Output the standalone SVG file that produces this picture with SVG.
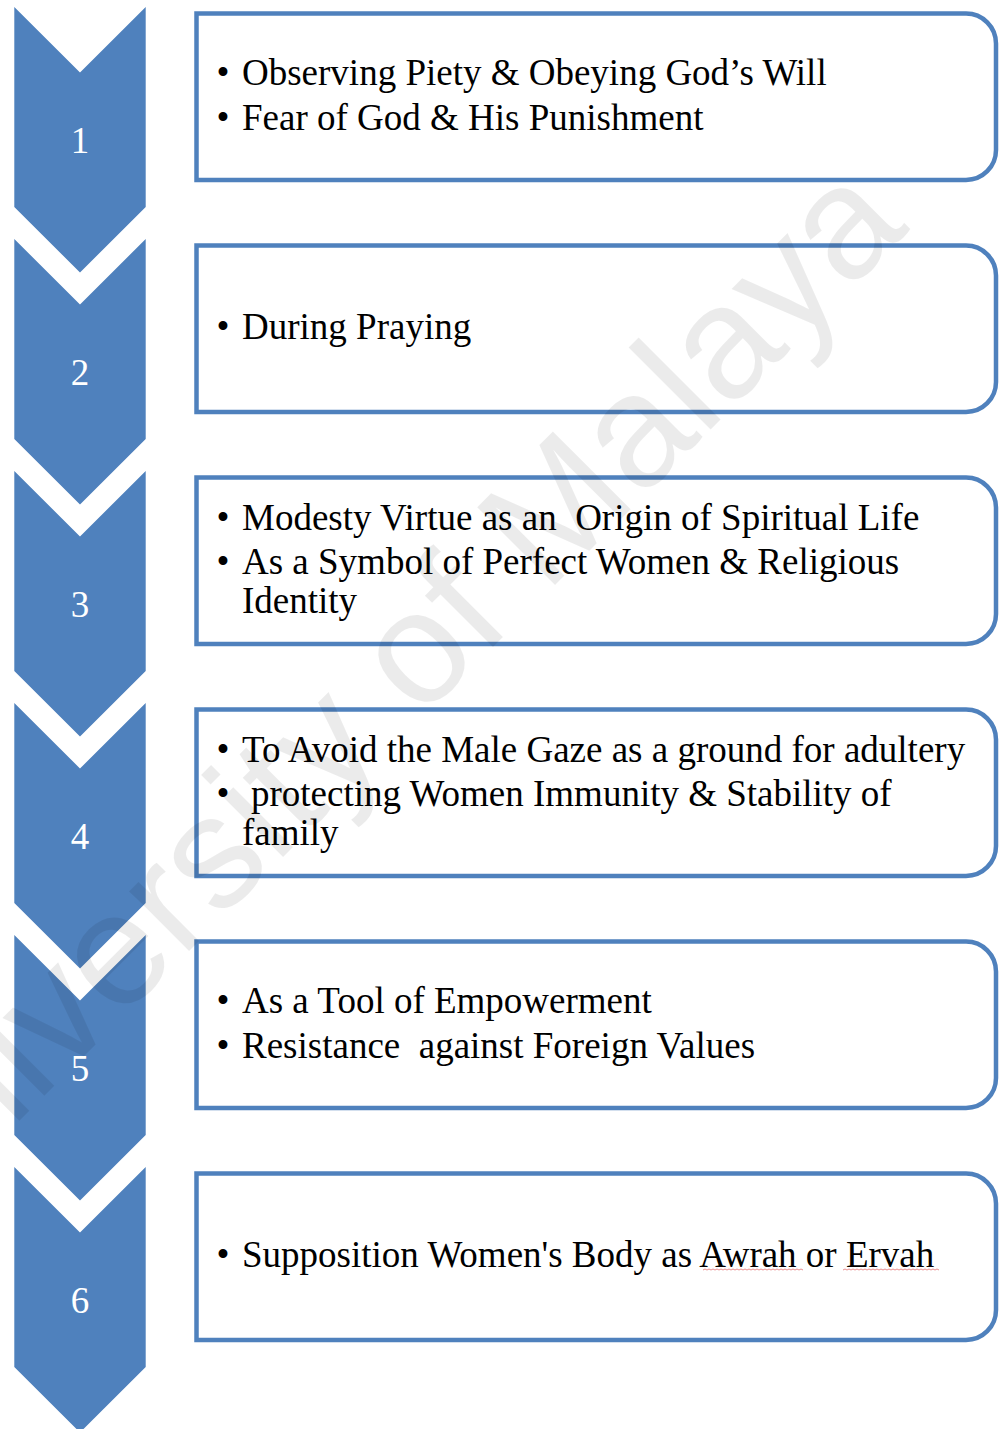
<svg xmlns="http://www.w3.org/2000/svg" width="999" height="1429" viewBox="0 0 999 1429">
  <style>
    .chev { fill: #4f81bd; }
    .num { font-family: "Liberation Serif", "Times New Roman", serif; font-size: 37px; fill: #ffffff; text-anchor: middle; }
    .box { fill: #ffffff; stroke: #4f81bd; stroke-width: 4.5; }
    .txt { font-family: "Liberation Serif", "Times New Roman", serif; font-size: 37px; fill: #000000; white-space: pre; }
    .bul { font-family: "Liberation Serif", "Times New Roman", serif; font-size: 37px; fill: #000000; text-anchor: middle; }
    .squiggle { fill: none; stroke: #e57373; stroke-width: 1; opacity: 0.8; }
    .mark { font-family: "Liberation Sans", Arial, sans-serif; font-size: 160px; fill: #000000; fill-opacity: 0.08; }
  </style>
  <defs>
    <!-- chevron step: flat sides 200 tall, 45 degree notch and tip -->
    <path id="chevShape" d="M14.3,0 L80,65.5 L145.7,0 L145.7,200 L80,265.5 L14.3,200 Z"/>
    <!-- text panel: square left corners, rounded right corners -->
    <path id="boxShape" d="M196.5,0 L966,0 A30,30 0 0 1 996,30 L996,136.5 A30,30 0 0 1 966,166.5 L196.5,166.5 Z"/>
  </defs>

  <rect width="999" height="1429" fill="#ffffff"/>

  <!-- step 1 -->
  <g id="step-1">
    <use href="#chevShape" class="chev" transform="translate(0,7)"/>
    <text class="num" x="80" y="153">1</text>
  </g>
  <g id="box-1" transform="translate(0,13.5)">
    <use href="#boxShape" class="box"/>
    <text class="bul" x="223" y="71.5">•</text>
    <text class="txt" x="242" y="71.5">Observing Piety &amp; Obeying God’s Will</text>
    <text class="bul" x="223" y="116.5">•</text>
    <text class="txt" x="242" y="116.5">Fear of God &amp; His Punishment</text>
  </g>

  <!-- step 2 -->
  <g id="step-2">
    <use href="#chevShape" class="chev" transform="translate(0,239)"/>
    <text class="num" x="80" y="385">2</text>
  </g>
  <g id="box-2" transform="translate(0,245.5)">
    <use href="#boxShape" class="box"/>
    <text class="bul" x="223" y="93">•</text>
    <text class="txt" x="242" y="93">During Praying</text>
  </g>

  <!-- step 3 -->
  <g id="step-3">
    <use href="#chevShape" class="chev" transform="translate(0,471)"/>
    <text class="num" x="80" y="617">3</text>
  </g>
  <g id="box-3" transform="translate(0,477.5)">
    <use href="#boxShape" class="box"/>
    <text class="bul" x="223" y="52">•</text>
    <text class="txt" x="242" y="52">Modesty Virtue as an  Origin of Spiritual Life</text>
    <text class="bul" x="223" y="96">•</text>
    <text class="txt" x="242" y="96">As a Symbol of Perfect Women &amp; Religious</text>
    <text class="txt" x="242" y="135">Identity</text>
  </g>

  <!-- step 4 -->
  <g id="step-4">
    <use href="#chevShape" class="chev" transform="translate(0,703)"/>
    <text class="num" x="80" y="849">4</text>
  </g>
  <g id="box-4" transform="translate(0,709.5)">
    <use href="#boxShape" class="box"/>
    <text class="bul" x="223" y="52">•</text>
    <text class="txt" x="242" y="52">To Avoid the Male Gaze as a ground for adultery</text>
    <text class="bul" x="223" y="96">•</text>
    <text class="txt" x="251" y="96">protecting Women Immunity &amp; Stability of</text>
    <text class="txt" x="242" y="135">family</text>
  </g>

  <!-- step 5 -->
  <g id="step-5">
    <use href="#chevShape" class="chev" transform="translate(0,935)"/>
    <text class="num" x="80" y="1081">5</text>
  </g>
  <g id="box-5" transform="translate(0,941.5)">
    <use href="#boxShape" class="box"/>
    <text class="bul" x="223" y="71.5">•</text>
    <text class="txt" x="242" y="71.5">As a Tool of Empowerment</text>
    <text class="bul" x="223" y="116.5">•</text>
    <text class="txt" x="242" y="116.5">Resistance  against Foreign Values</text>
  </g>

  <!-- step 6 -->
  <g id="step-6">
    <use href="#chevShape" class="chev" transform="translate(0,1167)"/>
    <text class="num" x="80" y="1313">6</text>
  </g>
  <g id="box-6" transform="translate(0,1173.5)">
    <use href="#boxShape" class="box"/>
    <text class="bul" x="223" y="93">•</text>
    <text class="txt" x="242" y="93">Supposition Women's Body as Awrah or Ervah</text>
    <!-- spelling marks under the two transliterated words -->
    <path class="squiggle" d="M703,96.5 l2,-1 l2,1 l2,-1 l2,1 l2,-1 l2,1 l2,-1 l2,1 l2,-1 l2,1 l2,-1 l2,1 l2,-1 l2,1 l2,-1 l2,1 l2,-1 l2,1 l2,-1 l2,1 l2,-1 l2,1 l2,-1 l2,1 l2,-1 l2,1 l2,-1 l2,1 l2,-1 l2,1 l2,-1 l2,1 l2,-1 l2,1 l2,-1 l2,1 l2,-1 l2,1 l2,-1 l2,1 l2,-1 l2,1 l2,-1 l2,1 l2,-1 l2,1 l2,-1 l2,1 l2,-1 l2,1"/>
    <path class="squiggle" d="M843,96.5 l2,-1 l2,1 l2,-1 l2,1 l2,-1 l2,1 l2,-1 l2,1 l2,-1 l2,1 l2,-1 l2,1 l2,-1 l2,1 l2,-1 l2,1 l2,-1 l2,1 l2,-1 l2,1 l2,-1 l2,1 l2,-1 l2,1 l2,-1 l2,1 l2,-1 l2,1 l2,-1 l2,1 l2,-1 l2,1 l2,-1 l2,1 l2,-1 l2,1 l2,-1 l2,1 l2,-1 l2,1 l2,-1 l2,1 l2,-1 l2,1 l2,-1 l2,1 l2,-1 l2,1"/>
  </g>

  <!-- the steps are joined by the chevrons themselves; no separate connectors -->
  <g id="connectors"/>

  <!-- faint diagonal watermark over the whole page -->
  <g id="watermark">
    <text class="mark" transform="translate(-108,1248) rotate(-45)">University of Malaya</text>
  </g>
</svg>
